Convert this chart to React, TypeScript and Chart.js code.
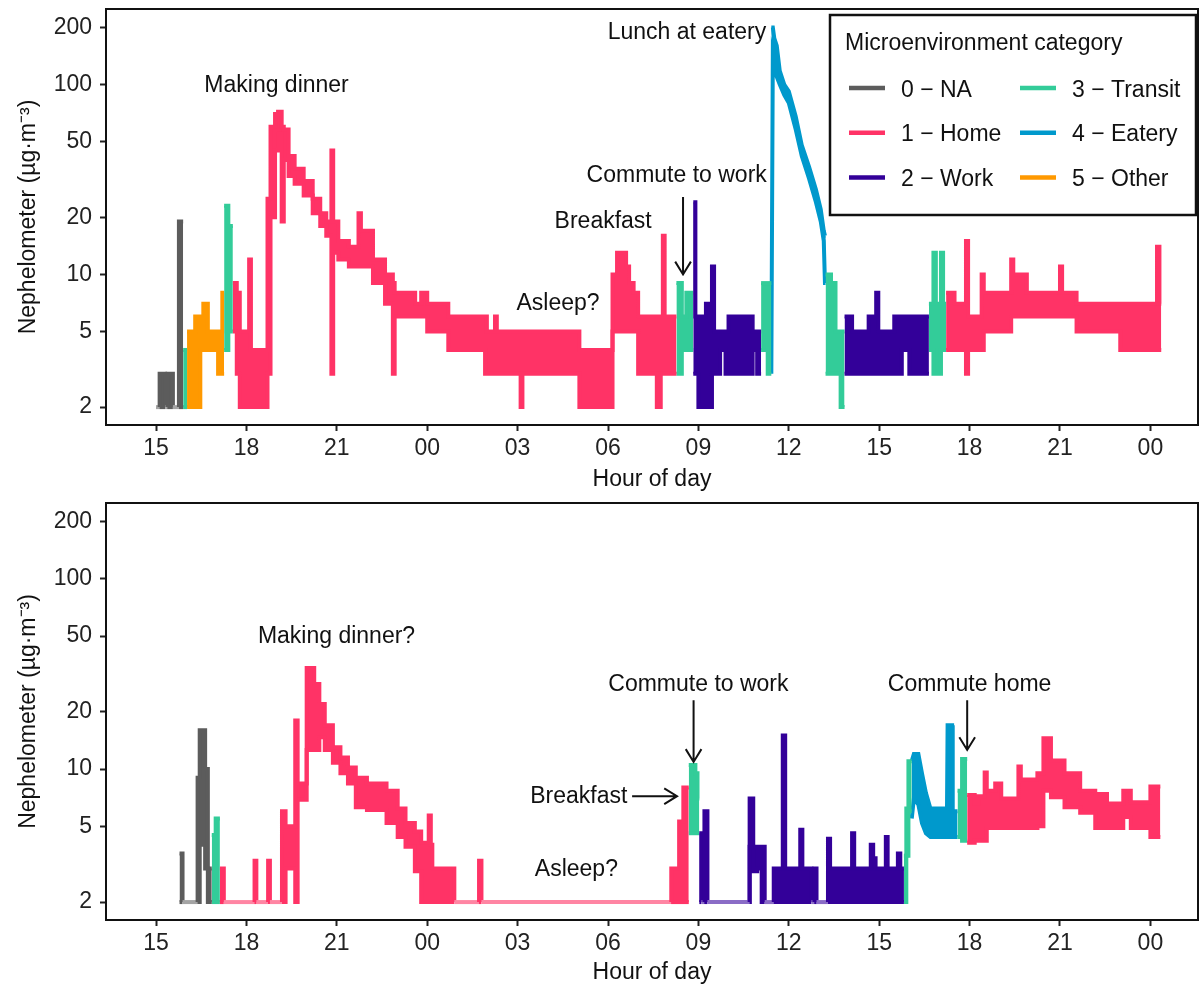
import React, { useEffect, useRef } from 'react';
import { Chart, registerables } from 'chart.js';

Chart.register(...registerables);

// ---------- categories ----------
const CATEGORY_NAMES = ['0 \u2212 NA', '1 \u2212 Home', '2 \u2212 Work', '3 \u2212 Transit', '4 \u2212 Eatery', '5 \u2212 Other'];
const CATEGORY_COLORS = ['#5c5c5c', '#ff3366', '#330099', '#33cc99', '#0099cc', '#ff9900'];
const CATEGORY_LIGHT = ['#a4a4a4', '#ff85a3', '#8a6cc6', '#8fe0c4', '#6cc0e0', '#ffc266'];

// ---------- axes ----------
const X_TICKS = [15, 18, 21, 24, 27, 30, 33, 36, 39, 42, 45, 48];
const Y_TICKS = [2, 5, 10, 20, 50, 100, 200];

// ---------- top panel (hours since midnight of day 1; low/high envelope per interval) ----------
const TOP_HOURS = [
  15.0, 15.12, 15.3, 15.38, 15.56, 15.76, 15.9, 16.03, 16.3, 16.47, 16.57, 16.72, 17.06, 17.2, 17.26, 17.4,
  17.55, 17.68, 17.78, 18.09, 18.15, 18.7, 18.8, 18.95, 19.05, 19.17, 19.24, 19.4, 19.6, 19.9, 20.2, 20.45,
  20.65, 20.82, 20.88, 21.05, 21.4, 21.72, 21.8, 22.2, 22.6, 22.86, 22.92, 23.6, 23.8, 24.0, 24.7, 25.92,
  25.98, 26.25, 26.31, 27.1, 27.16, 29.05, 30.15, 30.3, 30.6, 30.7, 30.85, 31.0, 31.62, 31.75, 31.82, 31.88,
  32.27, 32.45, 32.6, 32.83, 32.9, 33.0, 33.25, 33.45, 33.52, 33.72, 33.9, 34.0, 34.8, 34.95, 35.08, 35.3,
  35.42, 35.47, 35.52, 35.6, 35.7, 35.85, 36.0, 36.23, 36.43, 36.67, 36.9, 37.06, 37.16, 37.2,
  37.22, 37.4, 37.55, 37.72, 37.85, 38.1, 38.65, 38.9, 38.97, 39.5, 39.75, 40.0, 40.65, 40.8, 40.88, 41.05,
  41.12, 41.22, 41.5, 41.88, 41.95, 42.4, 42.47, 43.38, 43.45, 43.9, 45.0, 45.07, 45.55, 46.05, 47.0, 48.22, 48.3,
];
const TOP_LOW = [
  2, 2, 2, 2, 2, 2, 2, 2, 2, 4, 4, 4, 3, 3, 4, 5,
  5, 3, 2, 2, 2, 3, 20, 45, 55, 19, 40, 33, 30, 26, 21, 18,
  16, 3, 13, 12, 11, 11, 11, 9, 7, 3, 6, 6, 6, 5, 4, 3,
  3, 3, 3, 2, 3, 2, 5, 5, 5, 5, 5, 3, 2, 3, 3, 3,
  3, 4, 4, 3, 3, 2, 2, 3, 3, 4, 3, 3, 4, 3, 4, 3,
  3, 150, 140, 110, 100, 88, 80, 58, 42, 32, 24, 19, 15, 9,
  3, 3, 3, 2, 3, 3, 3, 3, 3, 3, 4, 3, 4, 3, 3, 4,
  4, 4, 4, 3, 4, 4, 5, 6, 6, 6, 6, 6, 5, 5, 4, 4, 4,
];
const TOP_HIGH = [
  2, 3, 2, 3, 2, 19, 4, 5, 6, 6, 7, 5, 5, 8, 23, 18,
  9, 8, 5, 12, 4, 25, 60, 70, 72, 60, 58, 42, 36, 31, 25, 21,
  19, 45, 19, 15, 14, 21, 17, 12, 10, 9, 8, 7, 8, 7, 6, 6,
  5, 6, 5, 5, 5, 4, 10, 13, 11, 9, 8, 6, 6, 6, 16, 6,
  9, 6, 8, 24, 6, 6, 7, 11, 5, 5, 5, 6, 5, 5, 9, 9,
  200, 200, 175, 160, 118, 100, 92, 68, 48, 37, 28, 22, 17, 16,
  10, 9, 5, 5, 6, 5, 6, 8, 5, 6, 6, 6, 7, 13, 7, 13,
  7, 8, 7, 15, 6, 10, 8, 12, 10, 8, 11, 8, 7, 7, 7, 14, 7,
];
const TOP_CATEGORY = [
  0, 0, 0, 0, 0, 0, 3, 5, 5, 5, 5, 5, 5, 5, 3, 3,
  1, 1, 1, 1, 1, 1, 1, 1, 1, 1, 1, 1, 1, 1, 1, 1,
  1, 1, 1, 1, 1, 1, 1, 1, 1, 1, 1, 1, 1, 1, 1, 1,
  1, 1, 1, 1, 1, 1, 1, 1, 1, 1, 1, 1, 1, 1, 1, 1,
  3, 3, 3, 2, 2, 2, 2, 2, 2, 2, 2, 2, 2, 2, 3, 3,
  4, 4, 4, 4, 4, 4, 4, 4, 4, 4, 4, 4, 4, 4,
  3, 3, 3, 3, 2, 2, 2, 2, 2, 2, 2, 2, 3, 3, 3, 3,
  3, 1, 1, 1, 1, 1, 1, 1, 1, 1, 1, 1, 1, 1, 1, 1, 1,
];
const TOP_END = 48.36;

// ---------- bottom panel ----------
const BOTTOM_HOURS = [
  15.78, 15.88, 16.38, 16.45, 16.63, 16.72, 16.85, 16.98, 17.12, 17.25, 18.27, 18.33, 18.72, 18.78, 19.18, 19.3,
  19.62, 19.7, 20.0, 20.25, 20.42, 20.6, 20.87, 21.12, 21.37, 21.63, 22.0, 22.65, 23.02, 23.28, 23.59, 23.8,
  24.05, 24.12, 24.17, 24.9, 25.72, 25.8, 32.1, 32.36, 32.5, 32.68, 32.9, 32.97, 33.03, 33.1,
  33.2, 33.3, 34.7, 34.82, 34.95, 35.1, 35.2, 35.5, 35.8, 35.88, 36.38, 36.45, 36.75, 36.85, 36.92, 37.3,
  37.37, 38.1, 38.17, 38.72, 38.8, 38.88, 39.22, 39.28, 39.62, 39.7, 39.82, 39.9, 39.97,
  40.08, 40.15, 40.3, 40.42, 40.55, 40.7, 41.25, 41.27, 41.42, 41.44,
  41.6, 41.75, 41.92, 42.17, 42.3, 42.5, 42.57, 42.85, 43.05, 43.62, 43.7, 44.25, 44.45, 44.7, 45.15, 45.67,
  46.17, 46.56, 47.1, 47.35, 48.0,
];
const BOTTOM_LOW = [
  2, 2, 2, 4, 3, 2, 2, 2, 2, 2, 2, 2, 2, 2, 2, 3,
  2, 6.9, 12.6, 12.6, 14.7, 12.6, 10.8, 9.5, 8.4, 6.3, 6.1, 5.2, 4.4, 3.9, 2.9, 2,
  2, 2, 2, 2, 2, 2, 2, 2, 2, 4.6, 4.6, 4.6, 2, 2,
  2, 2, 3.9, 2.9, 3, 2, 2, 2, 2, 2, 2, 2, 2, 2, 2, 2,
  2, 2, 2, 2, 2, 2, 2, 2, 2, 2, 2, 3.5, 6,
  5.5, 7, 6.5, 5.2, 4.6, 4.4, 4.4, 4.4, 4.4, 4.4,
  4.4, 4.2, 4.1, 4.2, 4.2, 4.2, 4.9, 4.9, 4.9, 4.9, 4.9, 5, 7.7, 7.1, 6.3, 5.9,
  4.9, 4.9, 5.6, 4.9, 4.4,
];
const BOTTOM_HIGH = [
  3.6, 2, 9, 16, 10, 3, 4.5, 5.5, 3, 2, 3.3, 2, 3.3, 2, 6, 5,
  18, 8.4, 34, 28, 22, 17, 13, 11.5, 10.2, 9, 8.4, 7.7, 6.2, 5.2, 4.7, 4.1,
  5.7, 4, 3, 2, 3.3, 2, 3, 5.3, 8, 10.5, 9.5, 7, 4.6, 2,
  6, 2, 7, 3.9, 3.9, 3.9, 2, 3, 15, 3, 4.8, 3, 2, 3, 2, 4.3,
  3, 4.6, 3, 4, 3.4, 3, 4.4, 3, 3.6, 3, 3.5, 6.2, 11,
  11, 12, 12, 9.5, 7.5, 6.2, 6.2, 17, 17, 6,
  7.7, 11.3, 7.3, 6.6, 7.2, 9.6, 7.7, 8.4, 7, 10.3, 8.8, 9.5, 14.5, 11.1, 9.5, 7.7,
  7.4, 6.6, 7.7, 6.7, 8.1,
];
const BOTTOM_CATEGORY = [
  0, 0, 0, 0, 0, 0, 3, 3, 1, 1, 1, 1, 1, 1, 1, 1,
  1, 1, 1, 1, 1, 1, 1, 1, 1, 1, 1, 1, 1, 1, 1, 1,
  1, 1, 1, 1, 1, 1, 1, 1, 1, 3, 3, 3, 2, 2,
  2, 2, 2, 2, 2, 2, 2, 2, 2, 2, 2, 2, 2, 2, 2, 2,
  2, 2, 2, 2, 2, 2, 2, 2, 2, 2, 3, 3, 3,
  4, 4, 4, 4, 4, 4, 4, 4, 4, 4,
  3, 3, 1, 1, 1, 1, 1, 1, 1, 1, 1, 1, 1, 1, 1, 1,
  1, 1, 1, 1, 1,
];
const BOTTOM_END = 48.33;

// ---------- annotations (data coordinates) ----------
const TOP_NOTES = [
  { text: 'Making dinner', hour: 19.0, value: 99 },
  { text: 'Lunch at eatery', hour: 32.62, value: 188 },
  { text: 'Commute to work', hour: 32.28, value: 33 },
  { text: 'Breakfast', hour: 29.84, value: 18.9 },
  { text: 'Asleep?', hour: 28.34, value: 7.0 },
];
const TOP_ARROWS = [{ from: [32.49, 25.6], to: [32.49, 10] }];
const BOTTOM_NOTES = [
  { text: 'Making dinner?', hour: 20.99, value: 49.4 },
  { text: 'Breakfast', hour: 29.03, value: 7.2 },
  { text: 'Asleep?', hour: 28.95, value: 2.97 },
  { text: 'Commute to work', hour: 33.0, value: 27.8 },
  { text: 'Commute home', hour: 42.0, value: 27.8 },
];
const BOTTOM_ARROWS = [
  { from: [30.8, 7.2], to: [32.29, 7.2] },
  { from: [32.84, 23], to: [32.84, 10.9] },
  { from: [41.92, 23], to: [41.92, 12.6] },
];

const FONT = '"Liberation Sans", Arial, Helvetica, sans-serif';
const TEXT = '#111111';

function buildDatasets(hours: number[], low: number[], high: number[], cats: number[], end: number) {
  const datasets: any[] = [];
  for (let c = 0; c < CATEGORY_NAMES.length; c++) {
    const hi: any[] = [];
    const lo: any[] = [];
    const flat: boolean[] = [];
    for (let i = 0; i < hours.length; i++) {
      if (cats[i] !== c) continue;
      const isFlat = low[i] === 2 && high[i] === 2;
      hi.push({ x: hours[i], y: high[i] });
      lo.push({ x: hours[i], y: low[i] });
      flat.push(isFlat);
      const last = i + 1 >= hours.length || cats[i + 1] !== c;
      if (!last && isFlat && !(low[i + 1] === 2 && high[i + 1] === 2)) {
        // keep the rise out of a quiet stretch in the full colour
        const tEdge = hours[i + 1] - 0.002;
        hi.push({ x: tEdge, y: high[i] });
        lo.push({ x: tEdge, y: low[i] });
        flat.push(false);
      }
      if (last) {
        const nextT = i + 1 < hours.length ? hours[i + 1] : end;
        hi.push({ x: nextT, y: high[i] });
        lo.push({ x: nextT, y: low[i] });
        flat.push(isFlat);
        hi.push({ x: nextT, y: null });
        lo.push({ x: nextT, y: null });
        flat.push(false);
      }
    }
    if (!hi.length) continue;
    const stepped = c === 4 ? false : true;
    datasets.push({
      label: CATEGORY_NAMES[c],
      data: hi,
      borderColor: CATEGORY_COLORS[c],
      backgroundColor: CATEGORY_COLORS[c],
      borderWidth: 4,
      stepped,
      fill: false,
      pointRadius: 0,
      spanGaps: false,
      segment: { borderColor: (ctx: any) => (flat[ctx.p0DataIndex] ? CATEGORY_LIGHT[c] : undefined) },
    });
    datasets.push({
      label: CATEGORY_NAMES[c] + ' low',
      data: lo,
      borderColor: CATEGORY_COLORS[c],
      backgroundColor: CATEGORY_COLORS[c],
      borderWidth: 4,
      stepped,
      fill: '-1',
      pointRadius: 0,
      spanGaps: false,
      segment: { borderColor: (ctx: any) => (flat[ctx.p0DataIndex] ? 'rgba(0,0,0,0)' : undefined) },
    });
  }
  return datasets;
}

const framePlugin = {
  id: 'panelFrame',
  afterDraw(chart: any) {
    const { ctx, chartArea } = chart;
    ctx.save();
    ctx.lineWidth = 2;
    ctx.strokeStyle = TEXT;
    ctx.strokeRect(chartArea.left, chartArea.top, chartArea.right - chartArea.left, chartArea.bottom - chartArea.top);
    ctx.restore();
  },
};

function makeNotesPlugin(notes: any[], arrows: any[]) {
  return {
    id: 'panelNotes',
    afterDatasetsDraw(chart: any) {
      const { ctx } = chart;
      const xs = chart.scales.x;
      const ys = chart.scales.y;
      ctx.save();
      ctx.fillStyle = TEXT;
      ctx.font = `23px ${FONT}`;
      ctx.textAlign = 'center';
      ctx.textBaseline = 'middle';
      for (const n of notes) {
        ctx.fillText(n.text, xs.getPixelForValue(n.hour), ys.getPixelForValue(n.value));
      }
      ctx.strokeStyle = TEXT;
      ctx.lineWidth = 2;
      for (const a of arrows) {
        const x1 = xs.getPixelForValue(a.from[0]);
        const y1 = ys.getPixelForValue(a.from[1]);
        const x2 = xs.getPixelForValue(a.to[0]);
        const y2 = ys.getPixelForValue(a.to[1]);
        const ang = Math.atan2(y2 - y1, x2 - x1);
        const len = 15;
        const spread = 0.55;
        ctx.beginPath();
        ctx.moveTo(x1, y1);
        ctx.lineTo(x2, y2);
        ctx.moveTo(x2 - len * Math.cos(ang - spread), y2 - len * Math.sin(ang - spread));
        ctx.lineTo(x2, y2);
        ctx.lineTo(x2 - len * Math.cos(ang + spread), y2 - len * Math.sin(ang + spread));
        ctx.stroke();
      }
      ctx.restore();
    },
  };
}

const legendPlugin = {
  id: 'categoryLegend',
  afterDraw(chart: any) {
    const { ctx, chartArea } = chart;
    const right = chartArea.right - 2;
    const left = right - 366;
    const top = chartArea.top + 6;
    const height = 200;
    ctx.save();
    ctx.fillStyle = '#ffffff';
    ctx.fillRect(left, top, right - left, height);
    ctx.lineWidth = 2.5;
    ctx.strokeStyle = TEXT;
    ctx.strokeRect(left, top, right - left, height);
    ctx.fillStyle = TEXT;
    ctx.font = `23px ${FONT}`;
    ctx.textAlign = 'left';
    ctx.textBaseline = 'alphabetic';
    ctx.fillText('Microenvironment category', left + 15, top + 35);
    for (let i = 0; i < CATEGORY_NAMES.length; i++) {
      const col = Math.floor(i / 3);
      const row = i % 3;
      const kx = left + 19 + col * 171;
      const ky = top + 73 + row * 44.7;
      ctx.strokeStyle = CATEGORY_COLORS[i];
      ctx.lineWidth = 4.5;
      ctx.beginPath();
      ctx.moveTo(kx, ky);
      ctx.lineTo(kx + 36, ky);
      ctx.stroke();
      ctx.fillStyle = TEXT;
      ctx.fillText(CATEGORY_NAMES[i], kx + 52, ky + 8.5);
    }
    ctx.restore();
  },
};

type PanelProps = {
  height: number;
  padTop: number;
  xAxisHeight: number;
  titlePadBottom: number;
  hours: number[];
  low: number[];
  high: number[];
  cats: number[];
  end: number;
  notes: any[];
  arrows: any[];
  legend: boolean;
};

function Panel(p: PanelProps) {
  const ref = useRef<HTMLCanvasElement | null>(null);
  useEffect(() => {
    if (!ref.current) return;
    const tickFont = { family: FONT, size: 23 };
    const titleFont = { family: FONT, size: 23 };
    const plugins: any[] = [framePlugin, makeNotesPlugin(p.notes, p.arrows)];
    if (p.legend) plugins.push(legendPlugin);
    const chart = new Chart(ref.current, {
      type: 'line',
      data: { datasets: buildDatasets(p.hours, p.low, p.high, p.cats, p.end) },
      options: {
        animation: false,
        responsive: false,
        events: [],
        layout: { padding: { top: p.padTop, right: 4, left: 0, bottom: 0 } },
        plugins: { legend: { display: false }, tooltip: { enabled: false } },
        elements: { point: { radius: 0 }, line: { borderJoinStyle: 'miter', borderCapStyle: 'butt' } },
        scales: {
          x: {
            type: 'linear',
            bounds: 'data',
            min: 13.34,
            max: 49.58,
            afterBuildTicks: (ax: any) => {
              ax.ticks = X_TICKS.map((v) => ({ value: v }));
            },
            afterFit: (ax: any) => {
              ax.height = p.xAxisHeight;
              ax.paddingLeft = 0;
              ax.paddingRight = 0;
            },
            ticks: {
              autoSkip: false,
              maxRotation: 0,
              padding: 4,
              color: '#222',
              font: tickFont,
              callback: (v: any) => String(Number(v) % 24).padStart(2, '0'),
            },
            grid: { display: true, drawOnChartArea: false, drawTicks: true, tickLength: 6, tickWidth: 2, tickColor: '#222' },
            border: { display: true, color: TEXT, width: 2 },
            title: { display: true, text: 'Hour of day', color: TEXT, font: titleFont, padding: { top: 0, bottom: p.titlePadBottom } },
          },
          y: {
            type: 'logarithmic',
            bounds: 'data',
            min: 1.61,
            max: 250,
            afterBuildTicks: (ax: any) => {
              ax.ticks = Y_TICKS.map((v) => ({ value: v }));
            },
            afterFit: (ax: any) => {
              ax.width = 106;
              ax.paddingTop = 0;
              ax.paddingBottom = 0;
            },
            ticks: { autoSkip: false, padding: 8, color: '#222', font: tickFont, callback: (v: any) => String(v) },
            grid: { display: true, drawOnChartArea: false, drawTicks: true, tickLength: 6, tickWidth: 2, tickColor: '#222' },
            border: { display: true, color: TEXT, width: 2 },
            title: {
              display: true,
              text: 'Nephelometer (\u00B5g\u00B7m\u207B\u00B3)',
              color: TEXT,
              font: titleFont,
              padding: { top: 15, bottom: 0 },
            },
          },
        },
      } as any,
      plugins,
    });
    return () => chart.destroy();
  }, []);
  return <canvas ref={ref} width={1202} height={p.height} style={{ display: 'block', width: 1202, height: p.height }} />;
}

export default function App() {
  return (
    <div style={{ position: 'fixed', left: 0, top: 0, width: 1202, height: 988, background: '#ffffff' }}>
      <Panel
        height={494}
        padTop={9}
        xAxisHeight={69}
        titlePadBottom={1}
        hours={TOP_HOURS}
        low={TOP_LOW}
        high={TOP_HIGH}
        cats={TOP_CATEGORY}
        end={TOP_END}
        notes={TOP_NOTES}
        arrows={TOP_ARROWS}
        legend={true}
      />
      <Panel
        height={494}
        padTop={9}
        xAxisHeight={68}
        titlePadBottom={2}
        hours={BOTTOM_HOURS}
        low={BOTTOM_LOW}
        high={BOTTOM_HIGH}
        cats={BOTTOM_CATEGORY}
        end={BOTTOM_END}
        notes={BOTTOM_NOTES}
        arrows={BOTTOM_ARROWS}
        legend={false}
      />
    </div>
  );
}
